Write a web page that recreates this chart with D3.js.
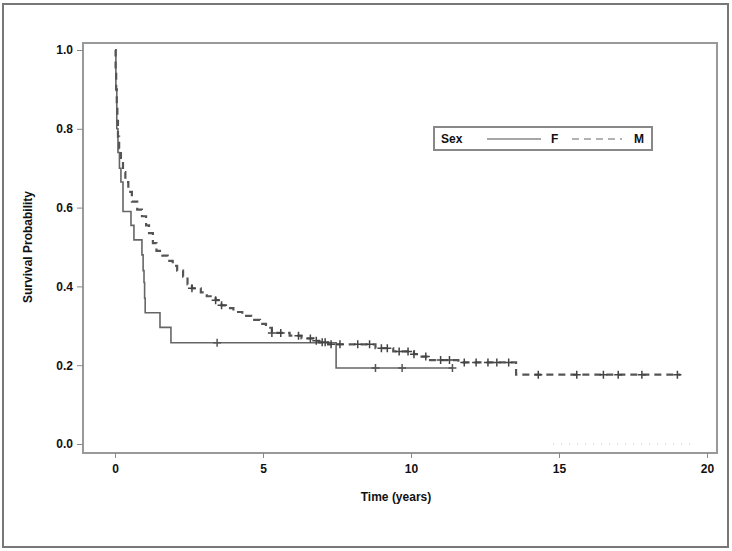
<!DOCTYPE html>
<meta charset="utf-8">
<style>
body { margin: 0; background: #fff; }
text { font-family: "Liberation Sans", Arial, sans-serif; font-weight: bold; fill: #111; }
</style>
<svg width="732" height="551"></svg>
<script src="https://cdn.jsdelivr.net/npm/d3@7/dist/d3.min.js"></script>
<script>
"use strict";

// Kaplan-Meier steps: [time, survival after the drop]
var stepsF = [[0,1.0],[0.03,0.90],[0.06,0.80],[0.1,0.74],[0.15,0.70],[0.2,0.665],[0.27,0.59],
  [0.54,0.555],[0.64,0.518],[0.91,0.48],[0.95,0.44],[0.98,0.41],[1.0,0.37],[1.02,0.333],
  [1.52,0.296],[1.89,0.257],[7.47,0.193]];
var endF = 11.4;
var censF = [[3.45,0.257],[8.8,0.193],[9.7,0.193],[11.4,0.193]];

var stepsM = [[0,1.0],[0.02,0.95],[0.04,0.90],[0.06,0.86],[0.08,0.82],[0.10,0.78],[0.14,0.75],
  [0.20,0.72],[0.27,0.69],[0.35,0.665],[0.45,0.64],[0.57,0.615],[0.75,0.595],[0.91,0.578],
  [1.05,0.555],[1.15,0.535],[1.28,0.51],[1.40,0.49],[1.60,0.478],[1.78,0.465],[1.95,0.452],
  [2.10,0.44],[2.30,0.425],[2.45,0.405],[2.60,0.395],[2.90,0.385],[3.10,0.375],[3.40,0.365],
  [3.60,0.352],[3.75,0.345],[4.0,0.335],[4.3,0.325],[4.6,0.315],[4.9,0.305],[5.1,0.295],
  [5.3,0.282],[5.9,0.275],[6.3,0.268],[6.7,0.262],[6.9,0.258],[7.2,0.253],[8.8,0.243],
  [9.4,0.235],[10.1,0.228],[10.3,0.222],[10.6,0.213],[11.6,0.207],[13.55,0.176]];
var endM = 19.1;
var censTimesM = [2.6,3.4,3.6,5.3,5.6,6.2,6.6,6.8,7.0,7.1,7.3,7.6,8.2,8.6,9.0,9.2,9.6,9.9,10.1,
  10.5,11.0,11.3,11.8,12.2,12.6,12.9,13.3,14.3,15.6,16.5,17.0,17.8,19.0];

var xTicks = [0,5,10,15,20];
var yTicks = [0.0,0.2,0.4,0.6,0.8,1.0];
var groups = ["F","M"];

var svg = d3.select("svg");

// outer frame
svg.append("rect").attr("x",3).attr("y",4).attr("width",725).attr("height",543)
  .attr("fill","none").attr("stroke","#777").attr("stroke-width",2);

var x = d3.scaleLinear().domain([0,20]).range([115,707]);
var y = d3.scaleLinear().domain([0,1]).range([444,50]);

// plot frame
svg.append("rect").attr("x",83).attr("y",43).attr("width",634).attr("height",410)
  .attr("fill","none").attr("stroke","#999").attr("stroke-width",2);

// axes
var gx = svg.append("g").attr("transform","translate(0,453)")
  .call(d3.axisBottom(x).tickValues(xTicks).tickSize(5).tickPadding(6).tickFormat(d3.format("d")));
var gy = svg.append("g").attr("transform","translate(83,0)")
  .call(d3.axisLeft(y).tickValues(yTicks).tickSize(6).tickPadding(4).tickFormat(d3.format(".1f")));
[gx,gy].forEach(function(g){
  g.select(".domain").remove();
  g.selectAll("line").attr("stroke","#888");
  g.selectAll("text").attr("font-size",12).attr("fill","#111");
});

svg.append("text").attr("x",396).attr("y",501).attr("text-anchor","middle")
  .attr("font-size",12).text("Time (years)");
svg.append("text").attr("transform","translate(32,247) rotate(-90)").attr("text-anchor","middle")
  .attr("font-size",12).text("Survival Probability");

// faint dotted line near bottom right
svg.append("line").attr("x1",x(14.8)).attr("x2",x(19.6)).attr("y1",y(0)).attr("y2",y(0))
  .attr("stroke","#bbb").attr("stroke-dasharray","1,7");

function stepPts(steps, end) {
  var pts = [];
  steps.forEach(function(s, i){
    if (i > 0) pts.push([s[0], steps[i-1][1]]);
    pts.push(s);
  });
  pts.push([end, steps[steps.length-1][1]]);
  return pts;
}
function survAt(steps, t) {
  var v = steps[0][1];
  steps.forEach(function(s){ if (s[0] <= t) v = s[1]; });
  return v;
}

var line = d3.line().x(function(d){ return x(d[0]); }).y(function(d){ return y(d[1]); });

svg.append("path").datum(stepPts(stepsF, endF)).attr("d", line)
  .attr("fill","none").attr("stroke","#666").attr("stroke-width",1.6);
svg.append("path").datum(stepPts(stepsM, endM)).attr("d", line)
  .attr("fill","none").attr("stroke","#555").attr("stroke-width",2.2)
  .attr("stroke-dasharray","7,5");

function cross(sel, data, color) {
  sel.selectAll(null).data(data).enter().append("path")
    .attr("d", function(d){
      var cx = x(d[0]), cy = y(d[1]);
      return "M" + (cx-4) + "," + cy + "H" + (cx+4) + "M" + cx + "," + (cy-4) + "V" + (cy+4);
    })
    .attr("stroke", color).attr("stroke-width",1.5);
}
var gc = svg.append("g");
cross(gc, censF, "#555");
cross(gc, censTimesM.map(function(t){ return [t, survAt(stepsM, t)]; }), "#444");

// legend
var lg = svg.append("g");
lg.append("rect").attr("x",434).attr("y",127).attr("width",218).attr("height",23)
  .attr("fill","#fff").attr("stroke","#888").attr("stroke-width",2);
lg.append("text").attr("x",441).attr("y",143).attr("font-size",12).text("Sex");
lg.append("line").attr("x1",487).attr("x2",541).attr("y1",139).attr("y2",139)
  .attr("stroke","#888").attr("stroke-width",1.5);
lg.append("text").attr("x",551).attr("y",143).attr("font-size",12).text(groups[0]);
lg.append("line").attr("x1",572).attr("x2",622).attr("y1",139).attr("y2",139)
  .attr("stroke","#999").attr("stroke-width",1.5).attr("stroke-dasharray","7,5");
lg.append("text").attr("x",634).attr("y",143).attr("font-size",12).text(groups[1]);
</script>
